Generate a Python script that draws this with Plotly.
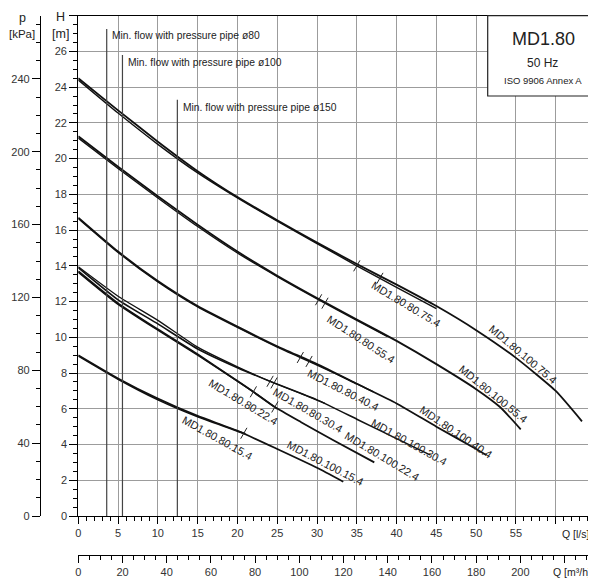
import numpy as np
import plotly.graph_objects as go

# ---------------- data ----------------
Q_100_75 = [0, 5, 10, 15, 20, 25, 30, 35, 40, 45, 50, 55, 60, 63.3]
H_100_75 = [24.5, 22.7, 20.95, 19.3, 17.85, 16.55, 15.3, 14.1, 12.95, 11.75, 10.4, 8.85, 7.0, 5.3]
Q_80_75 = [0, 5, 10, 15, 20, 25, 30, 35, 40, 45]
H_80_75 = [24.4, 22.55, 20.8, 19.2, 17.8, 16.5, 15.25, 14.0, 12.8, 11.6]

Q_100_55 = [0, 5, 10, 15, 20, 25, 30, 35, 40, 45, 50, 53, 55.6]
H_100_55 = [21.25, 19.55, 17.9, 16.3, 14.8, 13.45, 12.2, 11.0, 9.8, 8.5, 7.1, 6.1, 4.85]
Q_80_55 = [0, 5, 10, 15, 20, 25, 30, 35, 38.8]
H_80_55 = [21.15, 19.45, 17.8, 16.2, 14.72, 13.4, 12.15, 10.95, 10.05]

Q_100_40 = [0, 5, 10, 15, 20, 25, 30, 35, 40, 45, 50, 51.3]
H_100_40 = [16.7, 14.8, 13.15, 11.75, 10.6, 9.5, 8.5, 7.4, 6.3, 5.0, 3.75, 3.4]
Q_80_40 = [0, 5, 10, 15, 20, 25, 30, 35, 37.1]
H_80_40 = [16.65, 14.75, 13.1, 11.7, 10.55, 9.45, 8.45, 7.4, 6.95]

Q_100_30 = [0, 5, 10, 15, 20, 24.3, 30, 35, 40, 44.2]
H_100_30 = [13.9, 12.1, 10.75, 9.35, 8.3, 7.5, 6.5, 5.42, 4.33, 3.42]
Q_80_30 = [0, 5, 10, 15, 20, 24.3, 28, 31]
H_80_30 = [13.95, 12.3, 10.95, 9.45, 8.35, 7.5, 6.85, 6.3]

Q_100_22 = [0, 5, 10, 15, 20, 22, 24.7, 28, 32, 37.2]
H_100_22 = [13.7, 11.9, 10.45, 9.05, 7.55, 6.95, 6.1, 5.25, 4.25, 3.0]
Q_80_22 = [0, 5, 10, 15, 20, 22, 25]
H_80_22 = [13.65, 11.85, 10.4, 9.0, 7.55, 6.95, 6.0]

Q_100_15 = [0, 5, 10, 15, 20, 25, 30, 33.3]
H_100_15 = [9.0, 7.7, 6.57, 5.6, 4.77, 3.75, 2.7, 1.92]
Q_80_15 = [0, 5, 10, 15, 20, 21]
H_80_15 = [8.95, 7.65, 6.5, 5.55, 4.75, 4.6]

# small marks on the curves (flow values)
TICKS_75 = [35.0, 37.9]
TICKS_55 = [30.2, 31.0]
TICKS_40 = [27.9, 29.0]
TICKS_30 = [24.1, 24.6]
TICKS_22 = [22.0, 24.7]
TICKS_15 = [20.8]

# minimum flow lines
MINFLOW_Q = [3.57, 5.55, 12.45]
MINFLOW_TEXT = ["Min. flow with pressure pipe ø80",
                "Min. flow with pressure pipe ø100",
                "Min. flow with pressure pipe ø150"]

Q_TICKS = list(range(0, 61, 5))
H_TICKS = list(range(0, 29, 2))
P_TICKS = list(range(0, 241, 40))
QM3_TICKS = list(range(0, 221, 20))

# ---------------- layout geometry ----------------
# The page body has an 8px margin, so the figure is drawn 8px in from the
# window corner; size it to fill the rest of the 596x578 window.
OFF = 8
WIN_W, WIN_H = 596, 578
W, HT = WIN_W - OFF, WIN_H - OFF
X0, X1 = 78.3, 596.0      # window pixels
YB, YT = 516.0, 15.7      # window pixels
PX_PER_Q = 7.957
QMAX = (X1 - X0) / PX_PER_Q
HMAX = 28.0
FONT = "Liberation Sans, Arial, sans-serif"

def px(x):
    return (x - OFF) / W

def py(y):
    return 1 - (y - OFF) / HT

xdom = [px(X0), 1.0]
ydom = [py(YB), py(YT)]

fig = go.Figure()

curves = [
    (Q_80_75, H_80_75, 1.4), (Q_100_75, H_100_75, 1.8),
    (Q_80_55, H_80_55, 1.4), (Q_100_55, H_100_55, 1.8),
    (Q_80_40, H_80_40, 1.4), (Q_100_40, H_100_40, 1.8),
    (Q_80_30, H_80_30, 1.3), (Q_100_30, H_100_30, 1.6),
    (Q_80_22, H_80_22, 1.6), (Q_100_22, H_100_22, 1.8),
    (Q_80_15, H_80_15, 1.6), (Q_100_15, H_100_15, 1.8),
]
for Q, H, w in curves:
    fig.add_trace(go.Scatter(x=Q, y=H, mode="lines",
                             line=dict(color="#111111", width=w, shape="spline", smoothing=0.5),
                             hoverinfo="skip", showlegend=False))

tick_sets = [(TICKS_75, Q_80_75, H_80_75), (TICKS_55, Q_80_55, H_80_55),
             (TICKS_40, Q_80_40, H_80_40), (TICKS_30, Q_80_30, H_80_30),
             (TICKS_22, Q_100_22, H_100_22), (TICKS_15, Q_80_15, H_80_15)]
for tq, Q, H in tick_sets:
    fig.add_trace(go.Scatter(x=tq, y=np.interp(tq, Q, H), mode="markers",
                             marker=dict(symbol="line-ns", size=9, angle=30,
                                         line=dict(color="#222", width=1)),
                             hoverinfo="skip", showlegend=False))

# invisible companion trace so the kPa and m3/h scales are drawn
fig.add_trace(go.Scatter(x=np.array(Q_100_75) * 3.6, y=np.array(H_100_75) * 9.81,
                         xaxis="x2", yaxis="y2", mode="lines", opacity=0,
                         line=dict(width=0), hoverinfo="skip", showlegend=False))

# ---------------- axes ----------------
axis_common = dict(showline=True, linecolor="black", linewidth=1.2,
                   ticks="outside", tickcolor="black", tickwidth=1, automargin=False,
                   zeroline=False, tickfont=dict(family=FONT, size=11, color="#333"))

fig.update_layout(
    width=W, height=HT, autosize=False,
    margin=dict(l=0, r=0, t=0, b=0, pad=0, autoexpand=False),
    paper_bgcolor="white", plot_bgcolor="white",
    showlegend=False,
    xaxis=dict(domain=xdom, range=[0, QMAX], anchor="y",
               tickmode="array", tickvals=Q_TICKS,
               ticktext=[str(v) if v < 60 else "" for v in Q_TICKS],
               ticklen=7, mirror=True,
               showgrid=True, gridcolor="#9c9c9c", gridwidth=1,
               minor=dict(ticks="outside", ticklen=3.5, tickmode="linear", tick0=0, dtick=1,
                          tickcolor="black", showgrid=False),
               **axis_common),
    yaxis=dict(domain=ydom, range=[0, HMAX], anchor="x",
               tickmode="array", tickvals=H_TICKS,
               ticktext=[str(v) if v < 28 else "" for v in H_TICKS],
               ticklen=8,
               showgrid=True, gridcolor="#9c9c9c", gridwidth=1,
               minor=dict(ticks="outside", ticklen=4, tickmode="linear", tick0=0, dtick=0.5,
                          tickcolor="black", showgrid=False),
               **axis_common),
    yaxis2=dict(overlaying="y", anchor="free", position=px(40), side="left",
                range=[0, HMAX * 9.81],
                tickmode="array", tickvals=P_TICKS, ticktext=[str(v) for v in P_TICKS],
                ticklen=8, showgrid=False,
                minor=dict(ticks="outside", ticklen=4, tickmode="linear", tick0=0, dtick=10,
                           tickcolor="black", showgrid=False),
                **axis_common),
    xaxis2=dict(overlaying="x", anchor="free", position=py(555), side="bottom",
                range=[0, QMAX * 3.6],
                tickmode="array", tickvals=QM3_TICKS,
                ticktext=[str(v) if v < 220 else "" for v in QM3_TICKS],
                ticklen=7, showgrid=False,
                minor=dict(ticks="outside", ticklen=3.5, tickmode="linear", tick0=0, dtick=5,
                           tickcolor="black", showgrid=False),
                **axis_common),
)

# ---------------- shapes ----------------
minflow_top = [27.25, 25.8, 23.3]
shapes = []
for q, top in zip(MINFLOW_Q, minflow_top):
    shapes.append(dict(type="line", xref="x", yref="y", x0=q, x1=q, y0=0, y1=top,
                       line=dict(color="#444", width=1.2), layer="above"))
shapes.append(dict(type="rect", xref="paper", yref="paper",
                   x0=px(487.7), x1=1.02, y0=py(96), y1=py(YT),
                   fillcolor="white", line=dict(color="#222", width=1.2), layer="above"))
fig.update_layout(shapes=shapes)

# ---------------- annotations ----------------
ann = []

def txt(x, y, s, size=11, xanchor="center", angle=0, xref="paper", yref="paper", color="#222"):
    ann.append(dict(x=x, y=y, xref=xref, yref=yref, text=s, showarrow=False,
                    xanchor=xanchor, yanchor="middle", textangle=angle, borderpad=0,
                    font=dict(family=FONT, size=size, color=color)))

# axis titles
txt(px(22), py(18.5), "p", 12.5)
txt(px(22), py(33.5), "[kPa]", 11.5)
txt(px(60), py(17), "H", 12.5)
txt(px(60), py(33.5), "[m]", 12.5)
txt(px(591), py(534), "Q [l/s]", 10.5, xanchor="right")
txt(px(592), py(572), "Q [m³/h]", 10.5, xanchor="right")

# title box
txt(px(543), py(39.5), "MD1.80", 18)
txt(px(542), py(63), "50 Hz", 12)
txt(px(543), py(81), "ISO 9906 Annex A", 9.5)

# min flow texts
mf_pos = [(4.1, 26.88), (6.1, 25.36), (13.05, 22.84)]
for (x, y), s in zip(mf_pos, MINFLOW_TEXT):
    txt(x, y, s, 10.3, xanchor="left", xref="x", yref="y", color="#222")

# curve labels
labels = [
    ("MD1.80.80.75.4", 41.16, 11.87, 31),
    ("MD1.80.100.75.4", 55.83, 9.07, 40),
    ("MD1.80.80.55.4", 35.5, 9.91, 33),
    ("MD1.80.100.55.4", 52.16, 6.83, 39),
    ("MD1.80.80.40.4", 33.3, 7.05, 27),
    ("MD1.80.100.40.4", 47.47, 4.72, 34),
    ("MD1.80.80.30.4", 28.81, 5.94, 30),
    ("MD1.80.100.30.4", 41.56, 4.14, 29),
    ("MD1.80.80.22.4", 20.74, 6.36, 31),
    ("MD1.80.100.22.4", 38.13, 3.37, 31),
    ("MD1.80.80.15.4", 17.49, 4.35, 29),
    ("MD1.80.100.15.4", 31.0, 2.95, 27.5),
]
for s, x, y, a in labels:
    txt(x, y, s, 11, angle=a, xref="x", yref="y", color="#222")

fig.update_layout(annotations=ann)

fig.write_html("out.html")
